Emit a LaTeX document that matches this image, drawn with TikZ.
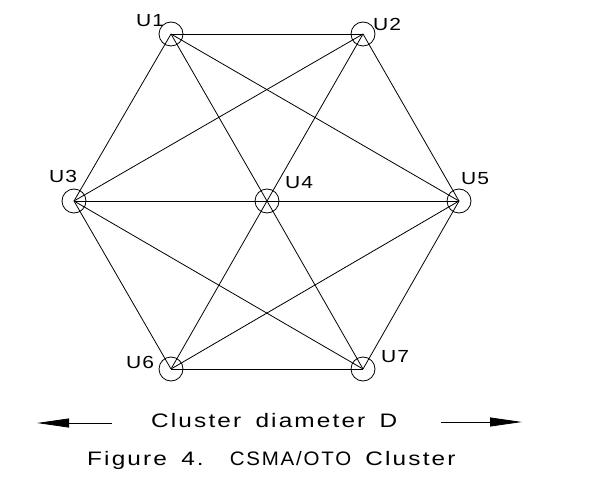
\documentclass[tikz,border=0pt]{standalone}
\usepackage{fontspec}
\usepackage{graphicx}
\setmainfont{Liberation Sans}
\newfontfamily\capfont[LetterSpace=11,FakeStretch=1.25,WordSpace=1.6]{Liberation Sans}
\newfontfamily\lblfont[LetterSpace=6,FakeStretch=1.2]{Liberation Sans}
\usetikzlibrary{arrows.meta}
\begin{document}
\begin{tikzpicture}[x=1pt,y=-1pt,
  station/.style={circle,draw,minimum size=24pt,inner sep=0pt,line width=0.8pt},
  link/.style={line width=0.8pt},
  ulabel/.style={inner sep=0pt,font=\lblfont\fontsize{17.5}{17.5}\selectfont},
  caption/.style={inner sep=0pt,anchor=base west,font=\capfont\fontsize{19.5}{20}\selectfont},
  dimarrow/.style={line width=0.8pt,-{Triangle[length=32pt,width=9pt]}}]
\useasboundingbox (0,0) rectangle (591,489);
\node[station] (u1) at (171,34) {};
\node[station] (u2) at (363,34) {};
\node[station] (u3) at (74,201) {};
\node[station] (u4) at (267,201) {};
\node[station] (u5) at (459,201) {};
\node[station] (u6) at (171,369) {};
\node[station] (u7) at (363,369) {};
\foreach \a/\b in {u1/u2,u1/u3,u1/u4,u1/u5,u2/u3,u2/u4,u2/u5,
  u3/u4,u4/u5,u3/u6,u3/u7,u4/u6,u4/u7,u5/u6,u5/u7,u6/u7}
  \draw[link] (\a.center) -- (\b.center);
\node[ulabel] (l1) at (150,21) {U1};
\node[ulabel] (l2) at (387,24) {U2};
\node[ulabel] (l3) at (63,176) {U3};
\node[ulabel] (l4) at (299,183) {U4};
\node[ulabel] (l5) at (475,179) {U5};
\node[ulabel] (l6) at (140,362) {U6};
\node[ulabel] (l7) at (395,357) {U7};
\node[caption] (cd) at (151,427) {Cluster diameter D};
\node[caption] (fig) at (87,465) {Figure 4.\hspace{26pt}\scalebox{0.84}[1]{CSMA/OTO} Cluster};
\coordinate (la0) at (37,423);
\coordinate (la1) at (112,423);
\coordinate (ra0) at (441,422);
\coordinate (ra1) at (522,422);
\draw[dimarrow] (la1) -- (la0);
\draw[dimarrow] (ra0) -- (ra1);
\end{tikzpicture}
\end{document}
